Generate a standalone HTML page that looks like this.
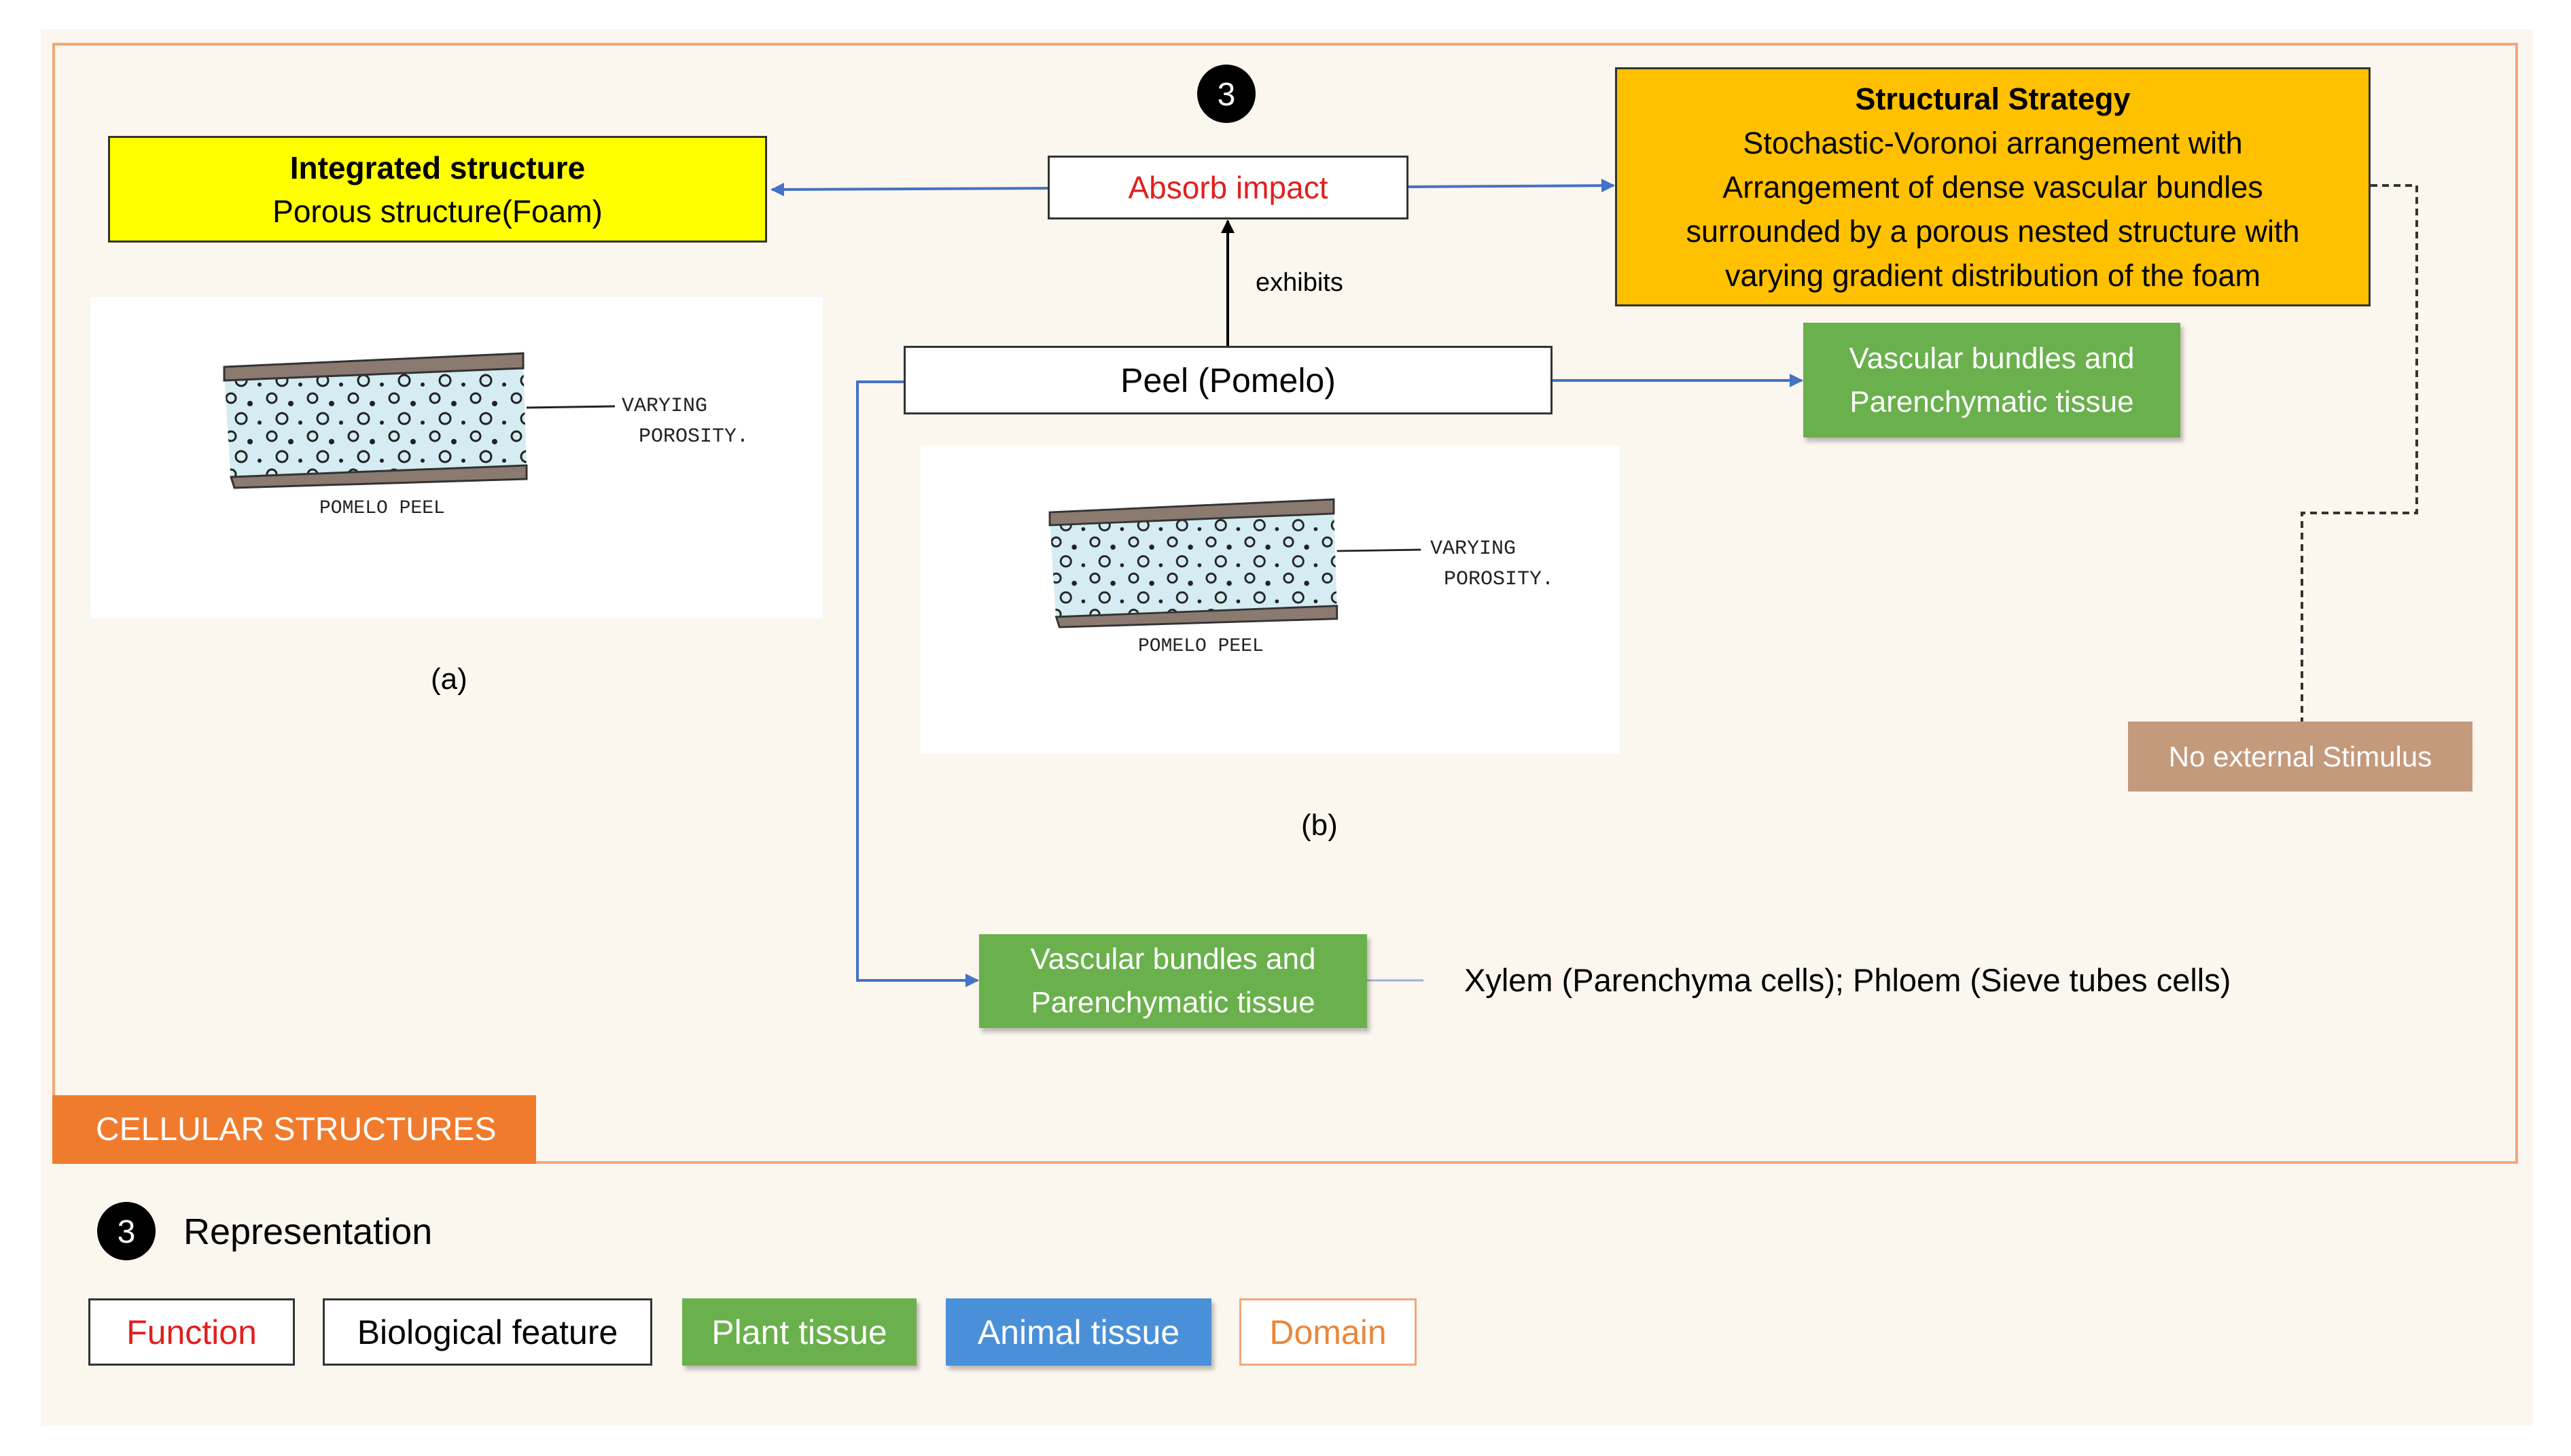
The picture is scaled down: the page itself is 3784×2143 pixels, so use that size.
<!DOCTYPE html>
<html><head><meta charset="utf-8"><style>
body{margin:0;width:3784px;height:2143px;background:#fff;position:relative;overflow:hidden;font-family:"Liberation Sans",sans-serif;}
.a{position:absolute;box-sizing:border-box;display:flex;align-items:center;justify-content:center;text-align:center;}
.t{position:absolute;white-space:nowrap;}
.g{background:#6ab04c;color:#fff;font-size:44px;line-height:64px;box-shadow:4px 6px 6px rgba(0,0,0,.25);}
</style></head><body>
<div style="position:absolute;left:60px;top:43px;width:3668px;height:2056px;background:#fbf6ee"></div>
<div style="position:absolute;left:77px;top:63px;width:3629px;height:1650px;border:4px solid #f2a77a;box-sizing:border-box"></div>
<div class="a" style="left:77px;top:1612px;width:712px;height:101px;background:#f07b2d;color:#fff;font-size:48px;justify-content:flex-start;padding-left:64px">CELLULAR STRUCTURES</div>

<svg style="position:absolute;left:0;top:0" width="3784" height="2143">
<defs>
<marker id="ak" viewBox="0 0 10 10" refX="9" refY="5" markerWidth="20" markerHeight="20" orient="auto" markerUnits="userSpaceOnUse"><path d="M0,0 L10,5 L0,10z" fill="#000"/></marker>
<marker id="ab2" viewBox="0 0 10 10" refX="9" refY="5" markerWidth="20" markerHeight="20" orient="auto" markerUnits="userSpaceOnUse"><path d="M0,0 L10,5 L0,10z" fill="#4472c4"/></marker>
<pattern id="pores" width="60" height="56" patternUnits="userSpaceOnUse">
<circle cx="10" cy="10" r="7" fill="none" stroke="#222" stroke-width="3"/><circle cx="38" cy="18" r="4" fill="#222"/><circle cx="25" cy="40" r="8" fill="none" stroke="#222" stroke-width="3"/><circle cx="52" cy="46" r="3" fill="#222"/></pattern>
</defs>
<g stroke="#4472c4" stroke-width="4" fill="none">
<line x1="1542" y1="277" x2="1136" y2="279" marker-end="url(#ab2)"/>
<line x1="2073" y1="275" x2="2375" y2="273" marker-end="url(#ab2)"/>
<line x1="2285" y1="560" x2="2652" y2="560" marker-end="url(#ab2)"/>
<polyline points="1330,562 1262,562 1262,1443 1439,1443" marker-end="url(#ab2)"/>
</g>
<line x1="1807" y1="509" x2="1807" y2="325" stroke="#000" stroke-width="4" marker-end="url(#ak)"/>
<line x1="2012" y1="1443" x2="2095" y2="1443" stroke="#9db2d8" stroke-width="3"/>
<polyline points="3489,273 3557,273 3557,755 3388,755 3388,1062" fill="none" stroke="#333" stroke-width="4" stroke-dasharray="10,7"/>
<rect x="133" y="437" width="1078" height="473" fill="#fff"/>
<g transform="translate(330,520)">
<path d="M0,30 L440,10 L445,170 L10,190 Z" fill="#d4ecf2"/>
<path d="M0,30 L440,10 L445,170 L10,190 Z" fill="url(#pores)"/>
<path d="M0,20 L440,0 L440,22 L0,40 Z" fill="#8a7a70" stroke="#333" stroke-width="3"/>
<path d="M10,182 L445,165 L445,185 L15,198 Z" fill="#8a7a70" stroke="#333" stroke-width="3"/>
<line x1="445" y1="80" x2="575" y2="78" stroke="#222" stroke-width="3"/>
</g>
<text x="915" y="605" font-size="30" font-family="Liberation Mono" fill="#222">VARYING</text>
<text x="940" y="650" font-size="30" font-family="Liberation Mono" fill="#222">POROSITY.</text>
<text x="470" y="755" font-size="28" font-family="Liberation Mono" fill="#222">POMELO PEEL</text>
<rect x="1354" y="656" width="1030" height="454" fill="#fff"/>
<g transform="translate(1545,735) scale(0.95)">
<path d="M0,30 L440,10 L445,170 L10,190 Z" fill="#d4ecf2"/>
<path d="M0,30 L440,10 L445,170 L10,190 Z" fill="url(#pores)"/>
<path d="M0,20 L440,0 L440,22 L0,40 Z" fill="#8a7a70" stroke="#333" stroke-width="3"/>
<path d="M10,182 L445,165 L445,185 L15,198 Z" fill="#8a7a70" stroke="#333" stroke-width="3"/>
<line x1="445" y1="80" x2="575" y2="78" stroke="#222" stroke-width="3"/>
</g>
<text x="2105" y="815" font-size="30" font-family="Liberation Mono" fill="#222">VARYING</text>
<text x="2125" y="860" font-size="30" font-family="Liberation Mono" fill="#222">POROSITY.</text>
<text x="1675" y="958" font-size="28" font-family="Liberation Mono" fill="#222">POMELO PEEL</text>
<circle cx="1805" cy="138" r="43" fill="#000"/>
<text x="1805" y="155" font-size="48" fill="#fff" text-anchor="middle" font-family="Liberation Sans">3</text>
<circle cx="186" cy="1812" r="43" fill="#000"/>
<text x="186" y="1829" font-size="48" fill="#fff" text-anchor="middle" font-family="Liberation Sans">3</text>
</svg>

<div class="a" style="left:159px;top:200px;width:970px;height:157px;background:#ffff00;border:3px solid #333;font-size:46px;line-height:64px">
<div><b>Integrated structure</b><br>Porous structure(Foam)</div></div>
<div class="a" style="left:1542px;top:229px;width:531px;height:94px;background:#fff;border:3px solid #333;color:#e0201e;font-size:46px">Absorb impact</div>
<div class="a" style="left:2377px;top:99px;width:1112px;height:352px;background:#ffc000;border:3px solid #333;font-size:45px;line-height:65px">
<div><b>Structural Strategy</b><br>Stochastic-Voronoi arrangement with<br>Arrangement of dense vascular bundles<br>surrounded by a porous nested structure with<br>varying gradient distribution of the foam</div></div>
<div class="t" style="left:1848px;top:395px;font-size:38px">exhibits</div>
<div class="a" style="left:1330px;top:509px;width:955px;height:101px;background:#fff;border:3px solid #333;font-size:50px">Peel (Pomelo)</div>
<div class="a g" style="left:2654px;top:475px;width:555px;height:169px"><div>Vascular bundles and<br>Parenchymatic tissue</div></div>
<div class="a g" style="left:1441px;top:1375px;width:571px;height:138px"><div>Vascular bundles and<br>Parenchymatic tissue</div></div>
<div class="t" style="left:2155px;top:1415px;font-size:47px">Xylem (Parenchyma cells); Phloem (Sieve tubes cells)</div>
<div class="t" style="left:634px;top:975px;font-size:44px">(a)</div>
<div class="t" style="left:1915px;top:1190px;font-size:44px">(b)</div>
<div class="a" style="left:3132px;top:1062px;width:507px;height:103px;background:#c49a7c;color:#fff;font-size:42px">No external Stimulus</div>
<div class="t" style="left:270px;top:1782px;font-size:54px">Representation</div>
<div class="a" style="left:130px;top:1911px;width:304px;height:99px;background:#fff;border:3px solid #333;color:#e0201e;font-size:50px">Function</div>
<div class="a" style="left:475px;top:1911px;width:485px;height:99px;background:#fff;border:3px solid #333;font-size:50px">Biological feature</div>
<div class="a" style="left:1004px;top:1911px;width:345px;height:99px;background:#6ab04c;color:#fff;font-size:50px;box-shadow:4px 6px 6px rgba(0,0,0,.25)">Plant tissue</div>
<div class="a" style="left:1392px;top:1911px;width:391px;height:99px;background:#4a90d9;color:#fff;font-size:50px;box-shadow:4px 6px 6px rgba(0,0,0,.25)">Animal tissue</div>
<div class="a" style="left:1824px;top:1911px;width:261px;height:99px;background:#fff;border:3px solid #f2a77a;color:#e8873a;font-size:50px">Domain</div>
</body></html>
